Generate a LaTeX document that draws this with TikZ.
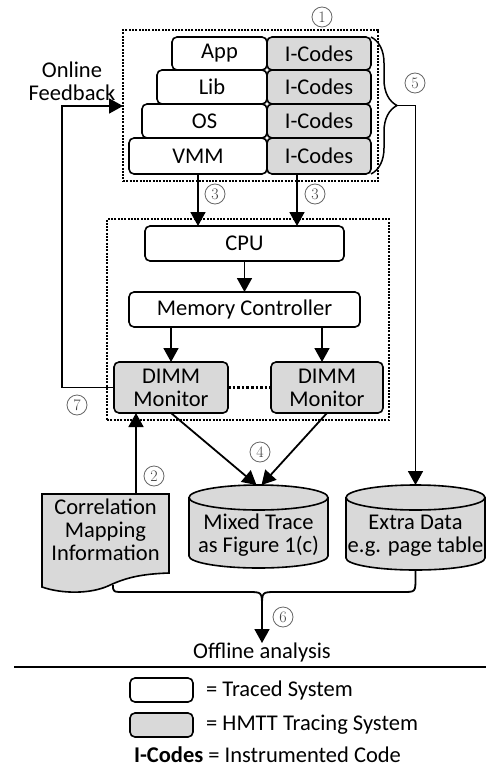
\documentclass[tikz,border=0pt]{standalone}
\usepackage{fontspec}
\newfontfamily\calib{Carlito}
\usetikzlibrary{arrows.meta,decorations.pathreplacing,calc}
\tikzset{
  box/.style={draw, rounded corners=5pt, line width=1.6pt, fill=white, inner sep=0pt, outer sep=0pt, align=center},
  gbox/.style={box, fill=black!15},
  arr/.style={line width=1.8pt, -{Triangle[length=14pt,width=15pt]}},
  conn/.style={line width=1.8pt},
  dotbox/.style={draw, dash pattern=on 2pt off 1.3pt, line width=2.2pt, inner sep=0pt, outer sep=0pt},
  circnum/.style={circle, draw=black!60, line width=0.8pt, inner sep=0pt, minimum size=20pt, text=black!75, font=\rmfamily\fontsize{16}{16}\selectfont},
  txt/.style={inner sep=0pt, align=center},
}
\begin{document}
\begin{tikzpicture}[x=1pt,y=-1pt,font=\calib\fontsize{22.5}{23}\selectfont]
\useasboundingbox (0,0) rectangle (487,768);

% top dotted box
\node[dotbox, minimum width=255pt, minimum height=151pt] (sw) at (250.5,105.5) {};
\node[circnum] (n1) at (322,17) {1};

% software stack
\node[box, minimum width=95pt, minimum height=33pt] (app) at (219.5,53.5) {App};
\node[box, minimum width=110pt, minimum height=34pt] (lib) at (212,87) {Lib};
\node[box, minimum width=125pt, minimum height=34pt] (os) at (204.5,121) {OS};
\node[box, minimum width=138pt, minimum height=36pt] (vmm) at (198,156) {VMM};
\node[gbox, minimum width=104pt, minimum height=33pt] (ic1) at (319,53.5) {I-Codes};
\node[gbox, minimum width=104pt, minimum height=34pt] (ic2) at (319,87) {I-Codes};
\node[gbox, minimum width=104pt, minimum height=34pt] (ic3) at (319,121) {I-Codes};
\node[gbox, minimum width=104pt, minimum height=36pt] (ic4) at (319,156) {I-Codes};

% brace
\draw[decorate, decoration={brace, amplitude=26pt}, line width=1.5pt] (ic1.north east) -- (ic4.south east);
\coordinate (bt) at (398,105.5);
\node[circnum] (n5) at (415,83) {5};

% online feedback label
\node[txt] (fb) at (72,81.5) {Online\\Feedback};

% inner dotted box
\node[dotbox, minimum width=282pt, minimum height=201pt] (hw) at (248,319.5) {};
\node[box, minimum width=199pt, minimum height=35pt] (cpu) at (244.5,243.5) {CPU};
\node[box, minimum width=231pt, minimum height=35pt] (mc) at (244.5,309.5) {Memory Controller};
\node[gbox, minimum width=114pt, minimum height=51pt] (dl) at (171,387.5) {DIMM\\Monitor};
\node[gbox, minimum width=112pt, minimum height=51pt] (dr) at (327,387.5) {DIMM\\Monitor};
\draw[dotted, line width=2.6pt] (dl.east) -- (dr.west);

% arrows (3)
\coordinate (a3b) at (297,174);
\draw[arr] (vmm.south) -- (vmm.south |- cpu.north);
\draw[arr] (a3b) -- (a3b |- cpu.north);
\node[circnum] (n3a) at (215,194) {3};
\node[circnum] (n3b) at (315,194) {3};

\draw[arr] (cpu.south) -- (mc.north);
\draw[arr] (mc.south -| dl.north) -- (dl.north);
\coordinate (drin) at ($(dr.north)+(-5,0)$);
\draw[arr] (mc.south -| drin) -- (drin);

% feedback loop
\coordinate (fbc) at (62,106);
\draw[arr] (dl.west) -| (fbc) -- (fbc -| sw.west);
\node[circnum] (n7) at (77,405) {7};

% cylinders
\node[inner sep=0pt, outer sep=0pt, minimum width=139pt, minimum height=83pt] (mt) at (258.5,526.5) {};
\node[inner sep=0pt, outer sep=0pt, minimum width=139pt, minimum height=85pt] (ed) at (415.5,527.5) {};
\foreach \n in {mt,ed}{
  \fill[black!15] ($(\n.north west)+(0,12.5)$) -- ($(\n.south west)+(0,-12)$)
     arc[start angle=180, end angle=360, x radius=69.5pt, y radius=12pt]
     -- ($(\n.north east)+(0,12.5)$)
     arc[start angle=0, end angle=180, x radius=69.5pt, y radius=12.5pt] -- cycle;
  \draw[line width=1.6pt] ($(\n.north west)+(0,12.5)$) -- ($(\n.south west)+(0,-12)$)
     arc[start angle=180, end angle=360, x radius=69.5pt, y radius=12pt]
     -- ($(\n.north east)+(0,12.5)$)
     arc[start angle=0, end angle=180, x radius=69.5pt, y radius=12.5pt]
     arc[start angle=180, end angle=360, x radius=69.5pt, y radius=12.5pt];
}
\node[txt] (mtt) at (258.5,535.5) {Mixed Trace\\as Figure 1(c)};
\node[txt] (edt) at (415.5,535.5) {Extra Data\\e.g. page table};

% document shape
\node[inner sep=0pt, outer sep=0pt, minimum width=127pt, minimum height=93pt] (cm) at (105.5,540.5) {};
\draw[line width=1.6pt, fill=black!15] (cm.north west) -- (cm.north east) -- (169,573)
   .. controls (140,574) and (125,578) .. (108,586)
   .. controls (90,594) and (62,594) .. (42,587) -- cycle;
\node[txt] (cmt) at (105.5,530) {Correlation\\Mapping\\Information};

% arrows 4, 2, 5
\draw[arr] (dl.south) -- ($(mt.north)+(-2,0)$);
\draw[arr] (dr.south) -- ($(mt.north)+(3,0)$);
\node[circnum] (n4) at (260,452) {4};
\coordinate (a2) at (136,494);
\draw[arr] (a2) -- (a2 |- dl.south);
\node[circnum] (n2) at (154,476) {2};
\draw[arr] (bt) -| (ed.north);

% merge to offline analysis
\coordinate (dbot) at (113,585);
\coordinate (mg) at (262,607);
\node[txt, anchor=north] (off) at (262,643) {Offline analysis};
\draw[conn] (dbot) .. controls (113,592) .. (125,592) -- (248,592) .. controls (262,592) .. (mg);
\draw[conn] (ed.south) -- ($(ed.south)+(0,8)$) .. controls (415.5,592) .. (403,592) -- (276,592) .. controls (262,592) .. (mg);
\draw[arr] (mg) -- (off.north);
\node[circnum] (n6) at (283,617) {6};

% legend
\draw[line width=1.8pt] (14,667) -- (486,667);
\node[box, minimum width=63pt, minimum height=24pt] (lw) at (161.5,690) {};
\node[gbox, minimum width=63pt, minimum height=24pt] (lg) at (161.5,725) {};
\node[txt, anchor=west] (lwt) at (206,690) {= Traced System};
\node[txt, anchor=west] (lgt) at (206,725) {= HMTT Tracing System};
\node[txt] (lic) at (267.5,755) {\textbf{I-Codes} = Instrumented Code};
\end{tikzpicture}
\end{document}
